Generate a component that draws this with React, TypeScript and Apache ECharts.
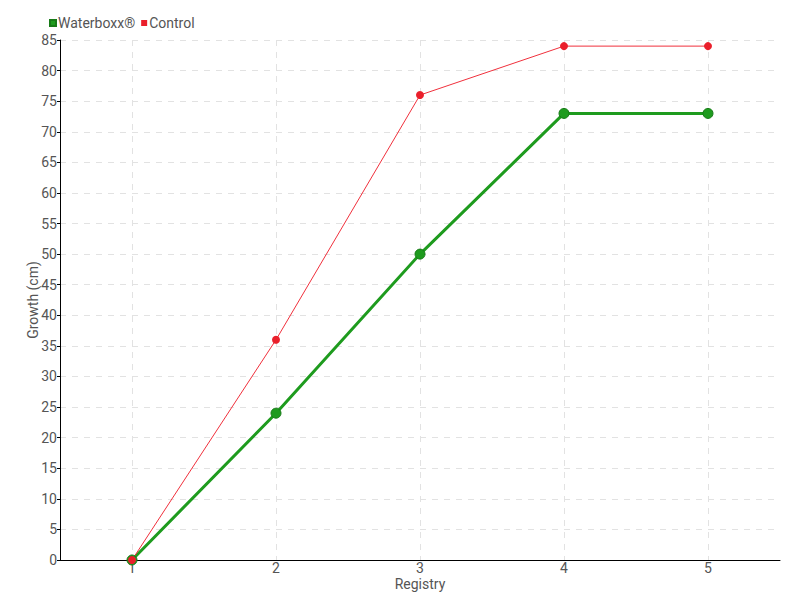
import React, { useEffect, useRef } from "react";
import * as echarts from "echarts";

const categories = ["1", "2", "3", "4", "5"];
const waterboxx = [0, 24, 50, 73, 73];
const control = [0, 36, 76, 84, 84];

const FONT = "Roboto, sans-serif";
const TXT = "#555";

export default function App() {
  const ref = useRef<HTMLDivElement>(null);
  useEffect(() => {
    const chart = echarts.init(ref.current!, null, { renderer: "svg", width: 800, height: 600 });
    chart.setOption({
      animation: false,
      textStyle: { fontFamily: FONT, color: TXT },
      legend: {
        left: 44,
        top: 11,
        itemWidth: 6,
        itemHeight: 6,
        itemGap: 6,
        icon: "rect",
        textStyle: { fontFamily: FONT, color: TXT, fontSize: 14, padding: [0, 0, 0, -3] },
        data: ["Waterboxx®", "Control"],
      },
      grid: { left: 60, top: 40, width: 720, height: 520, containLabel: false },
      xAxis: {
        type: "category",
        data: categories,
        boundaryGap: true,
        name: "Registry",
        nameLocation: "middle",
        nameGap: 17,
        nameMoveOverlap: false,
        nameTextStyle: { fontFamily: FONT, color: TXT, fontSize: 14 },
        axisLine: { lineStyle: { color: "#000", width: 1 } },
        axisTick: { alignWithLabel: true, length: 5, lineStyle: { color: "#000" } },
        axisLabel: { fontFamily: FONT, color: TXT, fontSize: 14, margin: 1 },
        splitLine: { show: true, alignWithLabel: true, lineStyle: { color: "#e2e2e2", type: [6, 6] } },
      },
      yAxis: {
        type: "value",
        min: 0,
        max: 85,
        interval: 5,
        name: "Growth (cm)",
        nameLocation: "middle",
        nameGap: 20,
        nameMoveOverlap: false,
        nameTextStyle: { fontFamily: FONT, color: TXT, fontSize: 14 },
        axisLine: { show: true, lineStyle: { color: "#000", width: 1 } },
        axisTick: { show: true, length: 3, lineStyle: { color: "#000" } },
        axisLabel: { fontFamily: FONT, color: TXT, fontSize: 14, margin: 3 },
        splitLine: { show: true, lineStyle: { color: "#e2e2e2", type: [6, 6] } },
      },
      series: [
        {
          name: "Waterboxx®",
          type: "line",
          data: waterboxx,
          symbol: "circle",
          symbolSize: 10,
          itemStyle: { color: "#1e9b1e", borderColor: "#177a17", borderWidth: 1 },
          lineStyle: { color: "#1e9b1e", width: 3 },
        },
        {
          name: "Control",
          type: "line",
          data: control,
          symbol: "circle",
          symbolSize: 8,
          itemStyle: { color: "#ea1f2b" },
          lineStyle: { color: "#f0303c", width: 1 },
        },
      ],
    });
    return () => chart.dispose();
  }, []);
  return (
    <div
      ref={ref}
      style={{ position: "absolute", left: 0, top: 0, width: 800, height: 600, overflow: "hidden" }}
    />
  );
}
